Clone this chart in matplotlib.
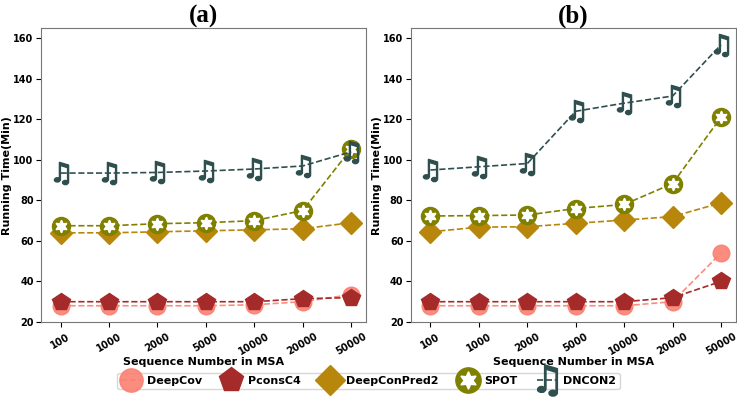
import matplotlib.pyplot as plt
import numpy as np
from matplotlib.legend_handler import HandlerTuple

# Data
seq_labels = ["100", "1000", "2000", "5000", "10000", "20000", "50000"]

a_deepcov = [28, 28, 28, 28, 28.5, 30, 33.5]
a_pconsc4 = [30, 30, 30, 30, 30, 31.5, 32]
a_deepconpred2 = [64, 64, 64.5, 65, 65.5, 66, 69]
a_spot = [67.5, 67.5, 68.5, 69, 70, 75, 105.5]
a_dncon2 = [93.5, 93.5, 93.8, 94.5, 95.5, 97, 104]

b_deepcov = [28, 28, 28, 28, 28, 30, 54]
b_pconsc4 = [30, 30, 30, 30, 30, 32, 40]
b_deepconpred2 = [64.5, 66.8, 67, 68.7, 70.3, 72, 78.8]
b_spot = [72.3, 72.5, 72.8, 76, 78, 88.3, 121]
b_dncon2 = [95, 96.6, 98.2, 124, 128, 131.5, 156.8]

colors = {
    "DeepCov": "#FA8072",
    "PconsC4": "#A52A2A",
    "DeepConPred2": "#B8860B",
    "SPOT": "#808000",
    "DNCON2": "#2F4F4F",
}

plt.rcParams["font.family"] = "DejaVu Sans"
plt.rcParams["font.weight"] = "bold"

fig, axes = plt.subplots(1, 2, figsize=(7.37, 3.97), dpi=100)
fig.subplots_adjust(left=0.056, right=0.998, top=0.929, bottom=0.189, wspace=0.14)

x = np.arange(len(seq_labels))
panels = [
    ("(a)", a_deepcov, a_pconsc4, a_deepconpred2, a_spot, a_dncon2),
    ("(b)", b_deepcov, b_pconsc4, b_deepconpred2, b_spot, b_dncon2),
]

handles = []
for ax, (title, dc, pc, dp, sp, dn) in zip(axes, panels):
    h1, = ax.plot(x, dc, "--", marker="o", color=colors["DeepCov"], markersize=12,
                  linewidth=1.2, alpha=0.9)
    h2, = ax.plot(x, pc, "--", marker="p", color=colors["PconsC4"], markersize=13,
                  linewidth=1.2)
    h3, = ax.plot(x, dp, "--", marker="D", color=colors["DeepConPred2"], markersize=11,
                  linewidth=1.2)
    h4a, = ax.plot(x, sp, "--", marker="o", color=colors["SPOT"], markersize=13,
                   linewidth=1.2)
    h4b, = ax.plot(x, sp, linestyle="none", marker=(6, 1, 0), color="white",
                   markersize=9)
    h5, = ax.plot(x, dn, "--", marker="$\u266B$", color=colors["DNCON2"], markersize=16,
                  linewidth=1.2)
    handles = [h1, h2, h3, (h4a, h4b), h5]

    ax.set_xticks(x)
    ax.set_xticklabels(seq_labels, rotation=30, fontsize=7, fontweight="bold")
    ax.set_xlim(-0.4, 6.3)
    ax.set_ylim(20, 165)
    ax.set_yticks([20, 40, 60, 80, 100, 120, 140, 160])
    ax.tick_params(axis="y", labelsize=7, pad=2)
    for lbl in ax.get_yticklabels():
        lbl.set_fontweight("bold")
    ax.set_xlabel("Sequence Number in MSA", fontsize=8, fontweight="bold", labelpad=0)
    ax.set_ylabel("Running Time(Min)", fontsize=8, fontweight="bold", labelpad=1)
    ax.set_title(title, fontsize=18, fontweight="bold", family="Liberation Serif", pad=4)
    for sp_ in ax.spines.values():
        sp_.set_color("#777777")

fig.legend(handles, list(colors.keys()), loc="lower center", ncol=5,
           bbox_to_anchor=(0.5, 0.005), markerscale=1.4, handlelength=1.8,
           columnspacing=1.7, handletextpad=0.6, borderpad=0.3,
           prop={"weight": "bold", "size": 8},
           handler_map={tuple: HandlerTuple(ndivide=1, pad=0)})

fig.savefig("out.png", dpi=100, facecolor="white")
